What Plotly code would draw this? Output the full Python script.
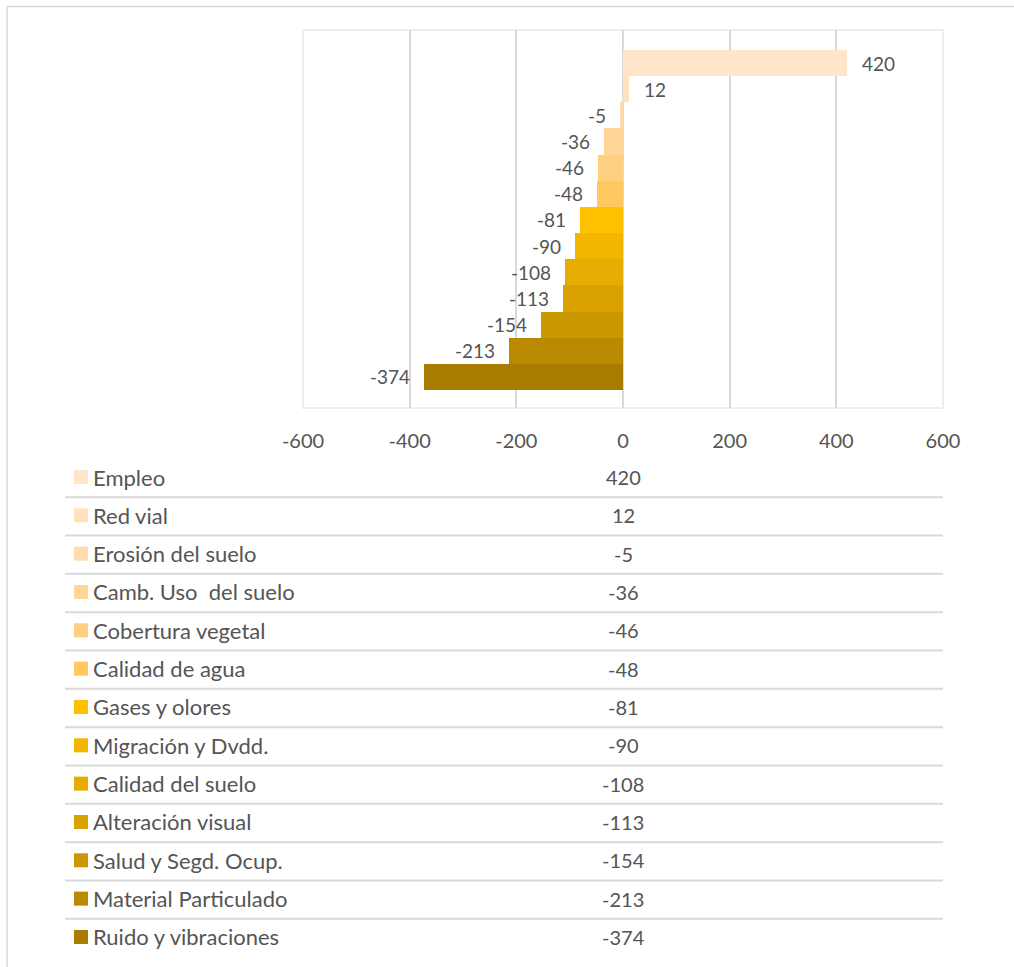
import plotly.graph_objects as go

# Impact categories (top to bottom) and their total scores
categories = [
    "Empleo", "Red vial", "Erosión del suelo", "Camb. Uso  del suelo",
    "Cobertura vegetal", "Calidad de agua", "Gases y olores",
    "Migración y Dvdd.", "Calidad del suelo", "Alteración visual",
    "Salud y Segd. Ocup.", "Material Particulado", "Ruido y vibraciones",
]
values = [420, 12, -5, -36, -46, -48, -81, -90, -108, -113, -154, -213, -374]
colors = [
    "#FFE6C8", "#FFE2BE", "#FFDCAC", "#FFD696", "#FFCF80", "#FFC860",
    "#FFC000", "#F2B600", "#E6AC00", "#D9A200", "#CB9800", "#B98A00",
    "#A87C00",
]
tick_values = [-600, -400, -200, 0, 200, 400, 600]

W, H = 1014, 967
FONT = "Lato"
TEXT = "#555555"
GRID = "#D9D9D9"


def px(x):
    return x / W


def py(y):
    return 1 - y / H


n = len(categories)
ypos = [n - 1 - i for i in range(n)]

# plot area in page pixels
PL, PR, PT, PB = 303, 943, 30, 408

fig = go.Figure()
fig.add_trace(go.Bar(
    x=values, y=ypos, orientation="h", width=1.0,
    marker=dict(color=colors, line=dict(width=0)),
    showlegend=False, hoverinfo="x",
))

annotations = []
# value labels beside each bar end
for v, y in zip(values, ypos):
    annotations.append(dict(
        x=v, y=y, xref="x", yref="y", text=str(v), showarrow=False,
        xanchor="left" if v >= 0 else "right", yanchor="middle",
        xshift=13 if v >= 0 else -12,
        font=dict(family=FONT, size=19, color=TEXT),
    ))

shapes = []
# data table beneath the chart
row0, step = 477, 38.33
for i, (name, v, c) in enumerate(zip(categories, values, colors)):
    yc = row0 + step * i
    shapes.append(dict(
        type="rect", xref="paper", yref="paper",
        x0=px(74), x1=px(88), y0=py(yc - 7), y1=py(yc + 7),
        fillcolor=c, line=dict(width=0),
    ))
    annotations.append(dict(
        x=px(91), y=py(yc), xref="paper", yref="paper", text=name,
        showarrow=False, xanchor="left", yanchor="middle",
        font=dict(family=FONT, size=22, color=TEXT),
    ))
    annotations.append(dict(
        x=px((PL + PR) / 2), y=py(yc), xref="paper", yref="paper",
        text=str(v), showarrow=False, xanchor="center", yanchor="middle",
        font=dict(family=FONT, size=20, color=TEXT),
    ))
    if i < n - 1:
        ly = yc + step / 2 + 1
        shapes.append(dict(
            type="line", xref="paper", yref="paper",
            x0=px(65), x1=px(PR), y0=py(ly), y1=py(ly),
            line=dict(color=GRID, width=2),
        ))

# plot-area frame
shapes.append(dict(
    type="rect", xref="paper", yref="paper",
    x0=px(PL), x1=px(PR), y0=py(PB), y1=py(PT),
    line=dict(color="#EEEEEE", width=2), layer="below",
))
# outer chart border (top and left edges)
shapes.append(dict(type="line", xref="paper", yref="paper",
                   x0=px(7), x1=1, y0=py(6.5), y1=py(6.5),
                   line=dict(color=GRID, width=1.5)))
shapes.append(dict(type="line", xref="paper", yref="paper",
                   x0=px(7), x1=px(7), y0=py(6.5), y1=0,
                   line=dict(color=GRID, width=1.5)))

fig.update_layout(
    width=W, height=H,
    margin=dict(l=0, r=0, t=0, b=0, autoexpand=False),
    paper_bgcolor="white", plot_bgcolor="white",
    bargap=0,
    xaxis=dict(
        domain=[px(PL), px(PR)], range=[-600, 600],
        tickvals=tick_values, ticktext=[str(t) for t in tick_values],
        showgrid=True, gridcolor=GRID, gridwidth=2,
        zeroline=False, showline=False, ticks="",
        ticklabelstandoff=19,
        tickfont=dict(family=FONT, size=20, color=TEXT),
        fixedrange=True,
    ),
    yaxis=dict(
        domain=[py(PB), py(PT)], range=[-1.19, 13.265],
        showticklabels=False, showgrid=False, zeroline=False,
        showline=False, ticks="", fixedrange=True,
    ),
    shapes=shapes,
    annotations=annotations,
    font=dict(family=FONT, color=TEXT),
)

fig.write_html("out.html")
